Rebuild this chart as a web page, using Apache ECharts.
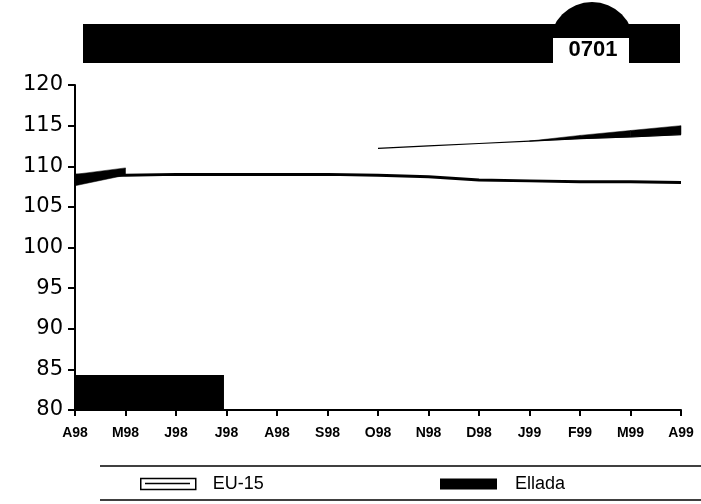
<!DOCTYPE html>
<html>
<head>
<meta charset="utf-8">
<script src="https://cdn.jsdelivr.net/npm/echarts@6/dist/echarts.min.js"></script>
<style>html,body{margin:0;padding:0;background:#fff}#c{width:701px;height:504px}</style>
</head>
<body>
<div id="c"></div>
<script>
var months = ['A98','M98','J98','J98','A98','S98','O98','N98','D98','J99','F99','M99','A99'];
var ellada = [108.9,108.9,109.0,109.0,109.0,109.0,108.9,108.7,108.3,108.2,108.1,108.1,108.0];
var eu15 = [null,null,null,null,null,null,112.2,112.5,112.8,113.1,113.4,113.6,113.9];
// dark band on top of the EU-15 line (low, high) by month index
var eu15BandLow = [null,null,null,null,null,null,null,null,null,113.1,113.4,113.6,113.9];
var eu15BandHigh = [null,null,null,null,null,null,null,null,null,113.1,113.8,114.4,115.0];
// dark wedge at the start (low, high)
var wedgeLow = [107.6,108.9];
var wedgeHigh = [109.0,109.8];
var yTicks = [80,85,90,95,100,105,110,115,120];

function pairs(arr){ return arr.map(function(v,i){ return [i, v]; }); }
function bandData(lo, hi){
  var out = [];
  for (var i = 0; i < lo.length - 1; i++) {
    if (lo[i] != null && lo[i+1] != null) out.push([i, lo[i], hi[i], lo[i+1], hi[i+1]]);
  }
  return out;
}
function bandRender(params, api){
  var i = api.value(0);
  var p1 = api.coord([i, api.value(1)]);
  var p2 = api.coord([i, api.value(2)]);
  var p3 = api.coord([i+1, api.value(4)]);
  var p4 = api.coord([i+1, api.value(3)]);
  return {type:'polygon', shape:{points:[p1,p2,p3,p4]}, style:{fill:'#000', stroke:'#000', lineWidth:0.5}};
}

var chart = echarts.init(document.getElementById('c'));
chart.setOption({
  animation:false,
  grid:{left:75,right:20,top:85,bottom:94},
  xAxis:{type:'value',min:0,max:months.length-1,interval:1,
    axisLine:{lineStyle:{color:'#000',width:2}},
    axisTick:{show:true,length:6,lineStyle:{color:'#000',width:2}},
    splitLine:{show:false},
    axisLabel:{margin:16,color:'#000',fontWeight:'bold',fontSize:14,fontFamily:'Liberation Sans',
      formatter:function(v){return months[v]||'';}}
  },
  yAxis:{type:'value',min:yTicks[0],max:yTicks[yTicks.length-1],interval:5,
    axisLine:{show:true,lineStyle:{color:'#000',width:2}},
    axisTick:{show:true,length:7,lineStyle:{color:'#000',width:2}},
    splitLine:{show:false},
    axisLabel:{margin:12,color:'#000',fontSize:21,fontFamily:'DejaVu Sans'}
  },
  legend:[
    {data:[{name:'EU-15',icon:'rect',itemStyle:{color:'#fff',borderColor:'#000',borderWidth:1.5}}],
     left:140,top:475,padding:0,itemWidth:55,itemHeight:11,selectedMode:false,
     textStyle:{fontSize:18,color:'#000',fontFamily:'Liberation Sans',padding:[0,0,0,12]}},
    {data:[{name:'Ellada',icon:'rect',itemStyle:{color:'#000'}}],
     left:440,top:475,padding:0,itemWidth:57,itemHeight:11,selectedMode:false,
     textStyle:{fontSize:18,color:'#000',fontFamily:'Liberation Sans',padding:[0,0,0,13]}}
  ],
  series:[
    {name:'Ellada',type:'line',data:pairs(ellada),showSymbol:false,lineStyle:{color:'#000',width:3},itemStyle:{color:'#000'},
     markArea:{silent:true,itemStyle:{color:'#000'},data:[[{coord:[0,80]},{coord:[2.95,84.3]}]]}},
    {name:'EU-15',type:'line',data:pairs(eu15),showSymbol:false,lineStyle:{color:'#000',width:1.2},itemStyle:{color:'#000'}},
    {name:'euBand',type:'custom',renderItem:bandRender,data:bandData(eu15BandLow,eu15BandHigh),silent:true},
    {name:'wedge',type:'custom',renderItem:bandRender,data:bandData(wedgeLow,wedgeHigh),silent:true}
  ],
  graphic:[
    {type:'rect',shape:{x:83,y:24,width:597,height:39},style:{fill:'#000'}},
    {type:'sector',shape:{cx:592,cy:44,r:42,startAngle:Math.PI,endAngle:2*Math.PI},style:{fill:'#000'}},
    {type:'rect',shape:{x:553,y:38,width:76,height:25},style:{fill:'#fff'}},
    {type:'text',style:{x:593,y:50,text:'0701',fill:'#000',font:'bold 22px Liberation Sans',align:'center',verticalAlign:'middle'}},
    {type:'line',shape:{x1:100,y1:466,x2:701,y2:466},style:{stroke:'#000',lineWidth:1.5}},
    {type:'line',shape:{x1:100,y1:500,x2:701,y2:500},style:{stroke:'#000',lineWidth:1.5}},
    {type:'line',z:100,zlevel:1,shape:{x1:145,y1:483.5,x2:190,y2:483.5},style:{stroke:'#000',lineWidth:1.5}}
  ]
});
</script>
</body>
</html>
